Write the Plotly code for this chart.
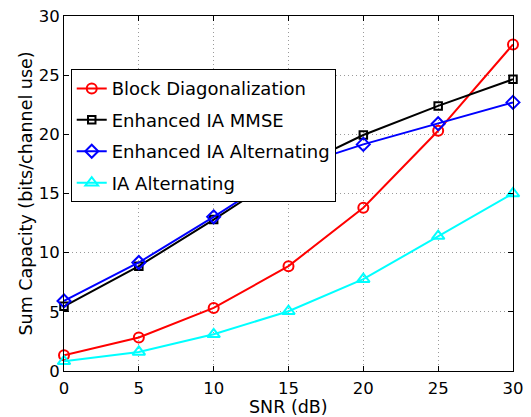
import plotly.graph_objects as go

snr = [0, 5, 10, 15, 20, 25, 30]
block_diag = [1.33, 2.83, 5.33, 8.86, 13.8, 20.3, 27.6]
enh_ia_mmse = [5.47, 8.86, 12.8, 16.9, 19.94, 22.4, 24.65]
enh_ia_alt = [5.92, 9.17, 13.03, 17.1, 19.15, 20.9, 22.7]
ia_alt = [0.82, 1.61, 3.1, 5.05, 7.76, 11.4, 15.0]

names = ["Block Diagonalization", "Enhanced IA MMSE", "Enhanced IA Alternating", "IA Alternating"]
colors = ["#ff0000", "#000000", "#0000ff", "#00ffff"]
symbols = ["circle-open", "square-open", "diamond-open", "triangle-up-open"]
sizes = [10, 7.5, 10, 11]
series = [block_diag, enh_ia_mmse, enh_ia_alt, ia_alt]

FONT = "DejaVu Sans"

fig = go.Figure()
for i, (nm, ys, c, s, sz) in enumerate(zip(names, series, colors, symbols, sizes)):
    fig.add_trace(go.Scatter(
        x=snr, y=ys, name=nm, mode="lines+markers",
        line=dict(color=c, width=2),
        marker=dict(symbol=s, size=sz, color=c, line=dict(color=c, width=2)),
        legendgroup=f"g{i}", cliponaxis=False,
    ))

axis_common = dict(
    showline=True, linecolor="black", linewidth=1, mirror="ticks",
    ticks="inside", ticklen=5, tickcolor="black", tickwidth=1,
    showgrid=True, gridcolor="#9a9a9a", gridwidth=1, griddash="1px,3px",
    zeroline=False, tickfont=dict(family=FONT, size=16.5, color="black"),
    dtick=5, automargin=False,
)

fig.update_layout(
    width=531, height=417,
    margin=dict(l=64, r=18, t=16, b=46),
    paper_bgcolor="white", plot_bgcolor="white",
    font=dict(family=FONT, size=18, color="black"),
    xaxis=dict(range=[0, 30], tick0=0, ticklabelstandoff=2, **axis_common),
    yaxis=dict(range=[0, 30], tick0=0, **axis_common),
    legend=dict(
        x=0.015, y=0.85, xanchor="left", yanchor="top",
        bgcolor="white", bordercolor="black", borderwidth=1,
        font=dict(family=FONT, size=18, color="black"),
        tracegroupgap=5, traceorder="grouped",
    ),
    showlegend=True,
    annotations=[
        dict(text="SNR (dB)", xref="paper", yref="paper", x=0.5, y=0,
             xanchor="center", yanchor="middle", yshift=-36, showarrow=False,
             font=dict(family=FONT, size=17.5, color="black")),
        dict(text="Sum Capacity (bits/channel use)", xref="paper", yref="paper",
             x=0, y=0.5, xanchor="center", yanchor="middle", xshift=-39,
             textangle=-90, showarrow=False,
             font=dict(family=FONT, size=17.5, color="black")),
    ],
)

fig.write_html("out.html", config={"displayModeBar": False},
               post_script="document.body.style.margin='0';document.body.style.padding='0';document.body.style.overflow='hidden';")
